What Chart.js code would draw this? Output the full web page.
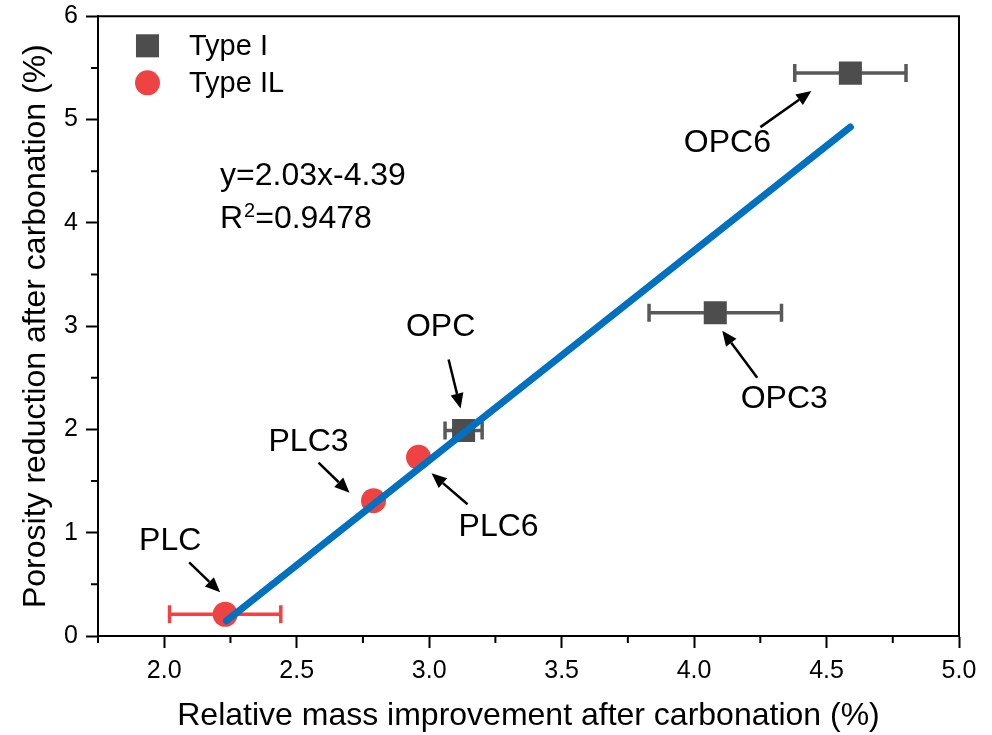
<!DOCTYPE html>
<html>
<head>
<meta charset="utf-8">
<script src="https://cdn.jsdelivr.net/npm/chart.js@4.4.1/dist/chart.umd.min.js"></script>
<style>
  html, body { margin: 0; padding: 0; background: #fff; }
  #wrap { width: 992px; height: 735px; position: relative; }
</style>
</head>
<body>
<div id="wrap"><canvas id="c"></canvas></div>
<script>
// Type I cements (OPC series)
const typeINames = ['OPC', 'OPC3', 'OPC6'];
const typeIX = [3.13, 4.08, 4.59];
const typeIY = [1.99, 3.13, 5.45];
const typeIXErr = [0.07, 0.25, 0.21];

// Type IL cements (PLC series)
const typeILNames = ['PLC', 'PLC3', 'PLC6'];
const typeILX = [2.23, 2.79, 2.96];
const typeILY = [0.21, 1.31, 1.73];
const typeILXErr = [0.21, 0, 0];

// Linear fit, as printed on the chart
const fitSlope = 2.03;
const fitIntercept = -4.39;
const fitR2 = 0.9478;
const fitXRange = [2.235, 4.59];

// Axis ticks
const xTicks = [2.0, 2.5, 3.0, 3.5, 4.0, 4.5, 5.0];
const xMinorTicks = [1.75, 2.25, 2.75, 3.25, 3.75, 4.25, 4.75];
const yTicks = [0, 1, 2, 3, 4, 5, 6];
const yMinorTicks = [0.5, 1.5, 2.5, 3.5, 4.5, 5.5];

const FONT = "'Liberation Sans', Arial, Helvetica, sans-serif";
const GRAY = '#4D4D4D';
const GRAY_BAR = '#595959';
const RED = '#EF4343';
const BLUE = '#0070C0';

// Label placement: text centre, arrow tail and arrow tip, as pixel offsets from the marked point
const labelLayout = {
  OPC:  { text: [-23, -103],  tail: [-15, -71],   tip: [-3, -22] },
  OPC3: { text: [69, 86],     tail: [42, 65],     tip: [7, 18] },
  OPC6: { text: [-123, 70],   tail: [-90, 54],    tip: [-39, 18] },
  PLC:  { text: [-55, -73],   tail: [-36, -52],   tip: [-5, -22] },
  PLC3: { text: [-65, -59],   tail: [-55, -38],   tip: [-24, -8] },
  PLC6: { text: [80, 70],     tail: [49, 47],     tip: [13, 16] }
};

function toPoints(xs, ys) { return xs.map((x, i) => ({ x: x, y: ys[i] })); }

function drawArrow(ctx, x1, y1, x2, y2) {
  const ang = Math.atan2(y2 - y1, x2 - x1);
  const headLen = 15, headHalf = 6.5;
  const bx = x2 - headLen * Math.cos(ang), by = y2 - headLen * Math.sin(ang);
  ctx.save();
  ctx.strokeStyle = '#000';
  ctx.fillStyle = '#000';
  ctx.lineWidth = 2.5;
  ctx.beginPath();
  ctx.moveTo(x1, y1);
  ctx.lineTo(bx, by);
  ctx.stroke();
  ctx.beginPath();
  ctx.moveTo(x2, y2);
  ctx.lineTo(bx + headHalf * Math.sin(ang), by - headHalf * Math.cos(ang));
  ctx.lineTo(bx - headHalf * Math.sin(ang), by + headHalf * Math.cos(ang));
  ctx.closePath();
  ctx.fill();
  ctx.restore();
}

const decorations = {
  id: 'decorations',
  beforeDatasetsDraw(chart) {
    // horizontal error bars
    const ctx = chart.ctx, xs = chart.scales.x, ys = chart.scales.y;
    const groups = [
      { x: typeIX, y: typeIY, e: typeIXErr, c: GRAY_BAR },
      { x: typeILX, y: typeILY, e: typeILXErr, c: RED }
    ];
    ctx.save();
    ctx.lineWidth = 3.5;
    groups.forEach(g => {
      ctx.strokeStyle = g.c;
      g.x.forEach((xv, i) => {
        if (!g.e[i]) return;
        const py = ys.getPixelForValue(g.y[i]);
        const pl = xs.getPixelForValue(xv - g.e[i]);
        const pr = xs.getPixelForValue(xv + g.e[i]);
        ctx.beginPath();
        ctx.moveTo(pl, py); ctx.lineTo(pr, py);
        ctx.moveTo(pl, py - 9); ctx.lineTo(pl, py + 9);
        ctx.moveTo(pr, py - 9); ctx.lineTo(pr, py + 9);
        ctx.stroke();
      });
    });
    ctx.restore();
  },
  afterDraw(chart) {
    const ctx = chart.ctx, xs = chart.scales.x, ys = chart.scales.y;
    const a = chart.chartArea;
    ctx.save();
    // frame: top and right edges
    ctx.strokeStyle = '#000';
    ctx.lineWidth = 2;
    ctx.beginPath();
    ctx.moveTo(a.left, a.top);
    ctx.lineTo(a.right, a.top);
    ctx.lineTo(a.right, a.bottom);
    ctx.stroke();
    // minor ticks
    ctx.beginPath();
    xMinorTicks.forEach(v => {
      const px = xs.getPixelForValue(v);
      ctx.moveTo(px, a.bottom); ctx.lineTo(px, a.bottom + 7);
    });
    yMinorTicks.forEach(v => {
      const py = ys.getPixelForValue(v);
      ctx.moveTo(a.left, py); ctx.lineTo(a.left - 7, py);
    });
    ctx.stroke();

    // point labels with arrows
    ctx.font = '32px ' + FONT;
    ctx.fillStyle = '#000';
    ctx.textAlign = 'center';
    ctx.textBaseline = 'middle';
    const all = [
      { n: typeINames, x: typeIX, y: typeIY },
      { n: typeILNames, x: typeILX, y: typeILY }
    ];
    all.forEach(g => g.n.forEach((name, i) => {
      const L = labelLayout[name];
      const px = xs.getPixelForValue(g.x[i]);
      const py = ys.getPixelForValue(g.y[i]);
      ctx.fillText(name, px + L.text[0], py + L.text[1]);
      drawArrow(ctx, px + L.tail[0], py + L.tail[1], px + L.tip[0], py + L.tip[1]);
    }));

    // fit equation
    ctx.textAlign = 'left';
    ctx.textBaseline = 'alphabetic';
    const ex = a.left + 122, ey = a.top + 169;
    const sign = fitIntercept < 0 ? '-' : '+';
    ctx.font = '32px ' + FONT;
    ctx.fillText('y=' + fitSlope.toFixed(2) + 'x' + sign + Math.abs(fitIntercept).toFixed(2), ex, ey);
    const ry = ey + 43;
    ctx.fillText('R', ex, ry);
    let cx = ex + ctx.measureText('R').width;
    ctx.font = '20px ' + FONT;
    ctx.fillText('2', cx + 1, ry - 11);
    cx += ctx.measureText('2').width + 1;
    ctx.font = '32px ' + FONT;
    ctx.fillText('=' + fitR2.toFixed(4), cx, ry);

    // legend
    const lx = a.left + 49.5, tx = a.left + 91;
    const rows = [a.top + 29.5, a.top + 66.5];
    ctx.font = '29px ' + FONT;
    ctx.textBaseline = 'middle';
    chart.data.datasets.forEach(ds => {
      if (ds.legendRow === undefined) return;
      const yy = rows[ds.legendRow];
      ctx.fillStyle = ds.backgroundColor;
      if (ds.pointStyle === 'rect') {
        const s = ds.pointRadius * Math.SQRT1_2;
        ctx.fillRect(lx - s, yy - s, 2 * s, 2 * s);
      } else {
        ctx.beginPath();
        ctx.arc(lx, yy, ds.pointRadius, 0, Math.PI * 2);
        ctx.fill();
      }
      ctx.fillStyle = '#000';
      ctx.fillText(ds.label, tx, yy + 1);
    });
    ctx.restore();
  }
};

const fitLine = fitXRange.map(x => ({ x: x, y: fitSlope * x + fitIntercept }));

new Chart(document.getElementById('c'), {
  data: {
    datasets: [
      {
        type: 'line', label: 'Linear fit', data: fitLine,
        borderColor: BLUE, borderWidth: 7, borderCapStyle: 'round',
        pointRadius: 0, fill: false, order: 0
      },
      {
        type: 'scatter', label: 'Type I', data: toPoints(typeIX, typeIY),
        pointStyle: 'rect', pointRadius: 16.3, backgroundColor: GRAY,
        borderWidth: 0, order: 1, legendRow: 0
      },
      {
        type: 'scatter', label: 'Type IL', data: toPoints(typeILX, typeILY),
        pointStyle: 'circle', pointRadius: 12.5, backgroundColor: RED,
        borderWidth: 0, order: 2, legendRow: 1
      }
    ]
  },
  options: {
    responsive: true,
    maintainAspectRatio: false,
    animation: false,
    events: [],
    layout: { padding: { top: 15, right: 33, left: 0, bottom: 0 } },
    plugins: { legend: { display: false }, tooltip: { enabled: false } },
    scales: {
      x: {
        type: 'linear', min: 1.75, max: 5.0,
        afterBuildTicks: s => { s.ticks = xTicks.map(v => ({ value: v })); },
        afterFit: s => { s.height = 99; s.paddingLeft = 0; s.paddingRight = 0; },
        border: { color: '#000', width: 2 },
        grid: { drawOnChartArea: false, tickLength: 12, tickWidth: 2, tickColor: '#000' },
        ticks: { color: '#000', padding: 8, font: { family: FONT, size: 25 },
                 callback: v => Number(v).toFixed(1) },
        title: { display: true, text: 'Relative mass improvement after carbonation (%)',
                 color: '#000', font: { family: FONT, size: 32 }, padding: { top: 0, bottom: 0 } }
      },
      y: {
        type: 'linear', min: 0, max: 6,
        afterBuildTicks: s => { s.ticks = yTicks.map(v => ({ value: v })); },
        afterFit: s => { s.width = 98; s.paddingTop = 0; s.paddingBottom = 0; },
        border: { color: '#000', width: 2 },
        grid: { drawOnChartArea: false, tickLength: 12, tickWidth: 2, tickColor: '#000' },
        ticks: { color: '#000', padding: 8, font: { family: FONT, size: 25 },
                 callback: v => String(v) },
        title: { display: true, text: 'Porosity reduction after carbonation (%)',
                 color: '#000', font: { family: FONT, size: 32 }, padding: { top: 17, bottom: 0 } }
      }
    }
  },
  plugins: [decorations]
});
</script>
</body>
</html>
